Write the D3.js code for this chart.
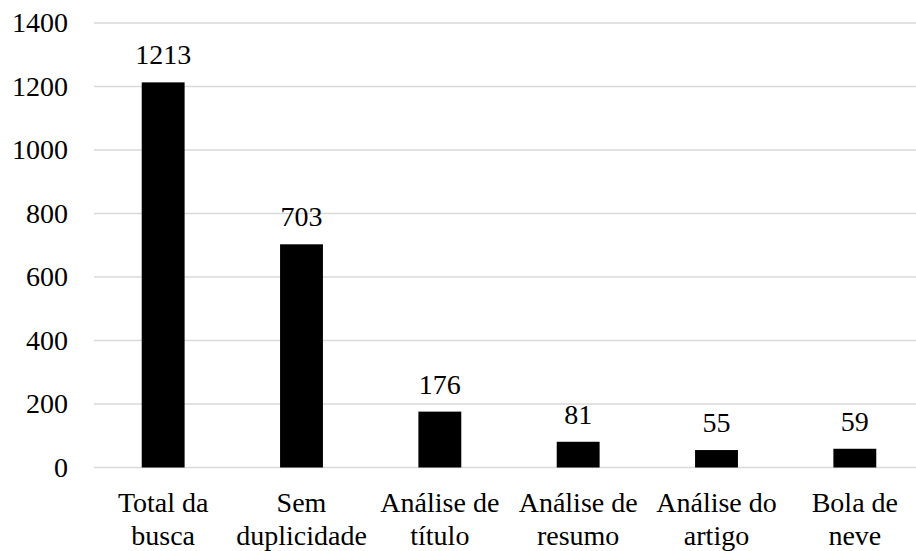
<!DOCTYPE html>
<html>
<head>
<meta charset="utf-8">
<script src="https://cdn.jsdelivr.net/npm/d3@7"></script>
<style>
  svg text { font-family: Tinos, "Times New Roman", "Liberation Serif", serif; font-size: 28px; fill: #000; }
</style>
</head>
<body style="margin:0">
<svg id="chart" width="916" height="551" font-family="Tinos, 'Times New Roman', 'Liberation Serif', serif"></svg>
<script>
// Stages of the article selection process and the count kept at each
const categories = [
  ["Total da", "busca"],
  ["Sem", "duplicidade"],
  ["Análise de", "título"],
  ["Análise de", "resumo"],
  ["Análise do", "artigo"],
  ["Bola de", "neve"]
];
const values = [1213, 703, 176, 81, 55, 59];
const yTicks = [0, 200, 400, 600, 800, 1000, 1200, 1400];

const svg = d3.select("#chart");

const x = d3.scaleBand()
  .domain(d3.range(categories.length))
  .range([94, 924])
  .paddingInner(0.69)
  .paddingOuter(0.345);

const y = d3.scaleLinear()
  .domain([0, 1400])
  .range([467.5, 23]);

// horizontal gridlines
svg.append("g")
  .selectAll("line")
  .data(yTicks)
  .join("line")
  .attr("x1", 94)
  .attr("x2", 916)
  .attr("y1", d => y(d))
  .attr("y2", d => y(d))
  .attr("stroke", "#d9d9d9")
  .attr("stroke-width", 1.5);

// y tick labels
svg.append("g")
  .selectAll("text")
  .data(yTicks)
  .join("text")
  .attr("x", 68)
  .attr("y", d => y(d))
  .attr("dy", "0.33em")
  .attr("text-anchor", "end")
  .text(d => d3.format("d")(d));

// bars
svg.append("g")
  .selectAll("rect")
  .data(values)
  .join("rect")
  .attr("x", (d, i) => x(i))
  .attr("width", x.bandwidth())
  .attr("y", d => y(d))
  .attr("height", d => y(0) - y(d))
  .attr("fill", "#000");

// value labels
svg.append("g")
  .selectAll("text")
  .data(values)
  .join("text")
  .attr("x", (d, i) => x(i) + x.bandwidth() / 2)
  .attr("y", d => y(d) - 18)
  .attr("text-anchor", "middle")
  .text(d => d);

// category labels, two lines each
categories.forEach((lines, i) => {
  lines.forEach((line, j) => {
    svg.append("text")
      .attr("x", x(i) + x.bandwidth() / 2)
      .attr("y", 511.5 + j * 33.5)
      .attr("text-anchor", "middle")
      .text(line);
  });
});
</script>
</body>
</html>
